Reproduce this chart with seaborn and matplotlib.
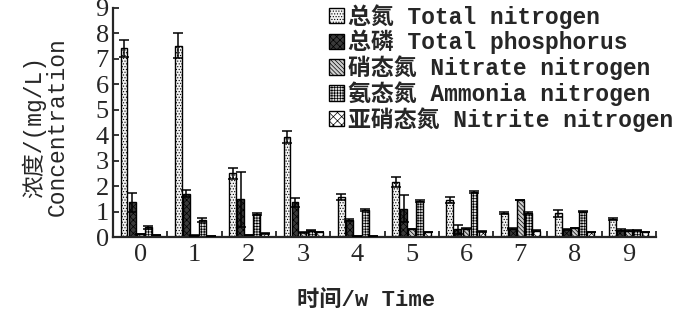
import numpy as np
import pandas as pd
import seaborn as sns
import matplotlib
matplotlib.use("Agg")
import matplotlib.pyplot as plt
from matplotlib.patches import Patch
from matplotlib.ticker import FixedLocator

weeks = ["0", "1", "2", "3", "4", "5", "6", "7", "8", "9"]
series = ["总氮 Total nitrogen", "总磷 Total phosphorus", "硝态氮 Nitrate nitrogen",
          "氨态氮 Ammonia nitrogen", "亚硝态氮 Nitrite nitrogen"]
total_n = [7.42, 7.52, 2.50, 3.93, 1.56, 2.16, 1.46, 0.94, 0.93, 0.70]
total_p = [1.36, 1.70, 1.48, 1.36, 0.65, 1.12, 0.30, 0.33, 0.30, 0.28]
nitrate = [0.12, 0.06, 0.07, 0.18, 0.03, 0.32, 0.33, 1.46, 0.36, 0.25]
ammonia = [0.38, 0.66, 0.89, 0.25, 1.07, 1.42, 1.77, 0.93, 1.00, 0.26]
nitrite = [0.08, 0.04, 0.14, 0.19, 0.03, 0.20, 0.22, 0.25, 0.20, 0.19]
err_n = [0.33, 0.50, 0.22, 0.25, 0.12, 0.20, 0.13, 0.04, 0.14, 0.04]
err_p = [0.36, 0.13, 1.07, 0.18, 0.04, 0.55, 0.18, 0.03, 0.03, 0.03]
err_nitrate = [0.01] * 10
err_ammonia = [0.05, 0.08, 0.04, 0.03, 0.05, 0.05, 0.04, 0.04, 0.03, 0.02]
err_nitrite = [0.01] * 10

values = [total_n, total_p, nitrate, ammonia, nitrite]
errors = [err_n, err_p, err_nitrate, err_ammonia, err_nitrite]

rows = []
for s, vals in zip(series, values):
    for w, v in zip(weeks, vals):
        rows.append({"week": w, "series": s, "value": v})
df = pd.DataFrame(rows)

sns.set_style("ticks")
plt.rcParams["font.family"] = ["Liberation Serif", "Noto Sans CJK SC"]
plt.rcParams["hatch.linewidth"] = 0.5
plt.rcParams["hatch.color"] = "black"

fig = plt.figure(figsize=(7.0, 3.18), dpi=100)
ax = fig.add_axes([113 / 700, 1 - 237 / 318, 543 / 700, 229 / 318])

faces = ["#f4f4f4", "#3a3a3a", "#cfcfcf", "#e0e0e0", "white"]
hatches = ["......", "xxxxx", "\\\\\\\\\\\\\\\\", "++++++", "xxxx"]

sns.barplot(data=df, x="week", y="value", hue="series", order=weeks, hue_order=series,
            width=0.74, gap=0.15, errorbar=None, legend=False, ax=ax,
            palette=["white"] * 5, edgecolor="black", linewidth=1.0)

bar_containers = list(ax.containers)
for i, cont in enumerate(bar_containers):
    xs, ys = [], []
    for p in cont.patches:
        p.set_facecolor(faces[i])
        p.set_hatch(hatches[i])
        p.set_edgecolor("black")
        xs.append(p.get_x() + p.get_width() / 2)
        ys.append(p.get_height())
    ax.errorbar(xs, ys, yerr=errors[i], fmt="none", ecolor="black",
                elinewidth=1.1, capsize=3.5, capthick=1.1, zorder=5)

ax.set_xlim(-0.5, 9.5)
ax.set_ylim(0, 9)
ax.set_yticks(range(0, 10))
ax.xaxis.set_minor_locator(FixedLocator(np.arange(0.5, 9.6, 1.0)))
ax.tick_params(axis="x", which="major", length=0, labelsize=19, pad=5)
ax.tick_params(axis="x", which="minor", length=4, direction="in", width=1.3)
ax.tick_params(axis="y", which="major", length=4, direction="in", width=1.3, labelsize=19, pad=3)
for sp in ["top", "right"]:
    ax.spines[sp].set_visible(False)
for sp in ["left", "bottom"]:
    ax.spines[sp].set_linewidth(1.6)

mono = ["Liberation Mono", "Noto Sans CJK SC"]
ax.set_ylabel("浓度/(mg/L)\nConcentration", family=mono, fontsize=16.5, linespacing=1.0,
              ha="center", va="center")
ax.yaxis.set_label_coords(-0.125, 0.48)
ax.set_xlabel("时间/w Time", family=mono, fontsize=16, va="center", fontweight="bold")
ax.xaxis.set_label_coords(0.466, -0.275)

handles = [Patch(facecolor=faces[i], edgecolor="black", hatch=hatches[i], linewidth=1.0)
           for i in range(5)]
fig.legend(handles, series, loc="upper left", bbox_to_anchor=(329 / 700, 1 - 4 / 318),
           frameon=False, prop={"family": mono, "size": 16.5, "weight": "bold"},
           handlelength=0.65, handleheight=0.65, handletextpad=0.2,
           labelspacing=0.05, borderpad=0, borderaxespad=0)

fig.savefig("out.png", dpi=100)
